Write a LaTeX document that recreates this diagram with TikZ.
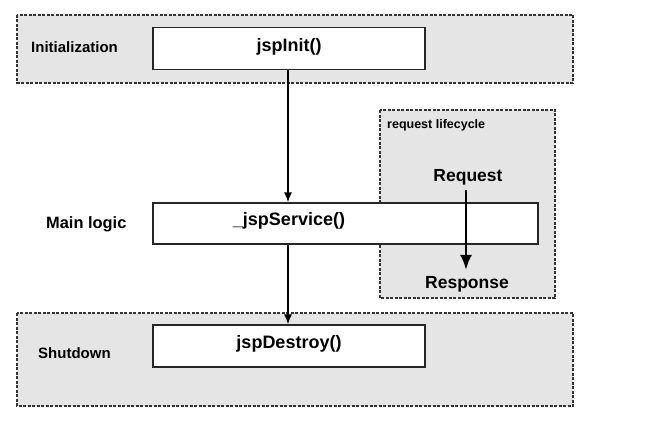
\documentclass[tikz,border=0pt]{standalone}
\usepackage{fontspec}
\setmainfont{Liberation Sans}
\usetikzlibrary{arrows.meta}
\begin{document}
\begin{tikzpicture}[x=1pt,y=-1pt,
  zone/.style={draw=black!80, dash pattern=on 3pt off 1.5pt, line width=1.5pt, fill=black!10},
  method/.style={draw=black!85, line width=1.4pt, fill=white},
  lbl/.style={font=\bfseries\fontsize{15}{17}\selectfont, anchor=west, inner sep=0pt},
  mtxt/.style={font=\bfseries\fontsize{18}{20}\selectfont, inner sep=0pt},
  flow/.style={draw=black, line width=1.1pt, -{Latex[length=10pt,width=8pt]}},
  big/.style={draw=black, line width=2.6pt, -{Latex[length=15pt,width=12pt]}}]
\useasboundingbox (0,0) rectangle (667,428);
% zones
\path[zone] (17,15) rectangle (573,83);
\path[zone] (380,110) rectangle (555,298);
\path[zone] (17,313) rectangle (573,406);
\node[lbl] (linit) at (31,47) {Initialization};
\node[lbl, font=\bfseries\fontsize{12.5}{14}\selectfont] (lreq) at (387,125) {request lifecycle};
\node[lbl] (lshut) at (38,353) {Shutdown};
\node[lbl, font=\bfseries\fontsize{16.4}{18}\selectfont] (lmain) at (46,224) {Main logic};
% method boxes
\node[method, minimum width=272pt, minimum height=42pt] (init) at (289,48.5) {};
\node[mtxt] at (289,47) {jspInit()};
\node[method, minimum width=385pt, minimum height=41pt] (svc) at (345.5,223.5) {};
\node[mtxt] at (289,221) {\_jspService()};
\node[method, minimum width=272pt, minimum height=42pt] (destroy) at (289,346) {};
\node[mtxt] at (289,344) {jspDestroy()};
% request / response
\node[mtxt, font=\bfseries\fontsize{17.5}{19}\selectfont] (req) at (468,177) {Request};
\node[mtxt, font=\bfseries\fontsize{17.5}{19}\selectfont] (resp) at (467,284) {Response};
% connectors
\draw[flow] (init.south -| 288,0) -- (svc.north -| 288,0);
\draw[flow] (svc.south -| 288,0) -- (destroy.north -| 288,0);
\draw[big] ([yshift=-5pt]req.south -| 466,0) -- ([yshift=6pt]resp.north -| 466,0);
\end{tikzpicture}
\end{document}
